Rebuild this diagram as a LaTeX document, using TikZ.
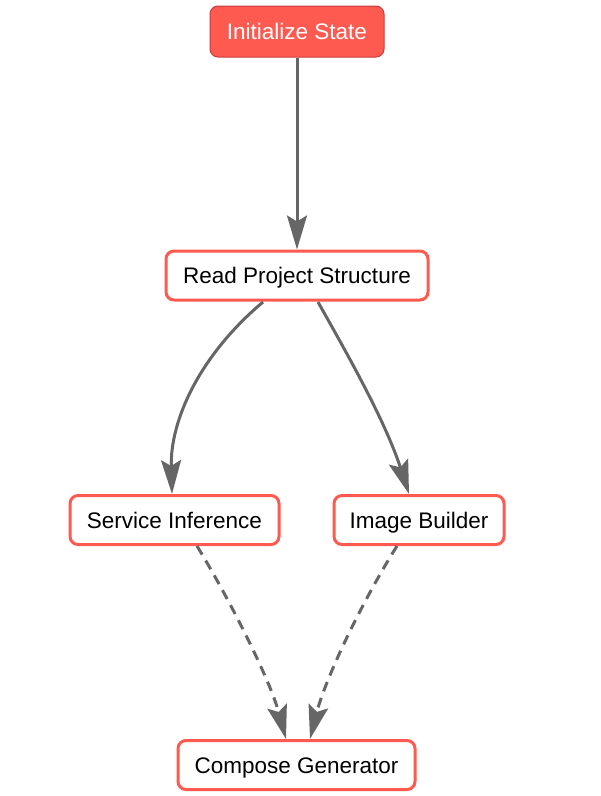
\documentclass[tikz,border=0pt]{standalone}
\usepackage{fontspec}
\setmainfont{Liberation Sans}
\usetikzlibrary{arrows.meta}
\definecolor{nodered}{HTML}{FF5A50}
\definecolor{nodeborder}{HTML}{C83C3C}
\definecolor{edgegray}{HTML}{666666}
\tikzset{
  box/.style={draw=nodered, line width=3pt, fill=white, rounded corners=8pt,
    minimum height=49pt, inner xsep=0pt, text height=18pt, text depth=2pt,
    font=\fontsize{22.5}{27}\selectfont, text=black},
  startbox/.style={draw=nodeborder, line width=1pt, fill=nodered, rounded corners=8pt,
    minimum height=51pt, inner xsep=0pt, text height=18pt, text depth=2pt,
    font=\fontsize{22.5}{27}\selectfont, text=white},
  conn/.style={draw=edgegray, line width=3pt,
    -{Stealth[length=34pt, width=20pt, inset=6pt]}},
  dconn/.style={conn, dash pattern=on 10pt off 7pt}
}
\begin{document}
\begin{tikzpicture}[x=1pt, y=-1pt]
\useasboundingbox (0,0) rectangle (601,796);
\node[startbox, minimum width=174pt] (init) at (297,31.5) {Initialize State};
\node[box, minimum width=262pt] (read) at (297,275.5) {Read Project Structure};
\node[box, minimum width=209pt] (svc) at (174.5,520) {Service Inference};
\node[box, minimum width=170pt] (img) at (419,520) {Image Builder};
\node[box, minimum width=237pt] (comp) at (296.5,765) {Compose Generator};

\coordinate (rs) at (263,302);
\coordinate (ri) at (318,302);
\coordinate (sv) at (172,494);
\coordinate (im) at (409,494);
\coordinate (so) at (197,546);
\coordinate (io) at (397,546);
\coordinate (c1) at (286,739);
\coordinate (c2) at (310,739);

\draw[conn] (init.south) -- (read.north);
\draw[conn] (rs) .. controls (200,355) and (170,420) .. (sv);
\draw[conn] (ri) .. controls (345,350) and (385,420) .. (im);
\draw[dconn] (so) .. controls (230,600) and (270,680) .. (c1);
\draw[dconn] (io) .. controls (360,605) and (325,680) .. (c2);
\end{tikzpicture}
\end{document}
